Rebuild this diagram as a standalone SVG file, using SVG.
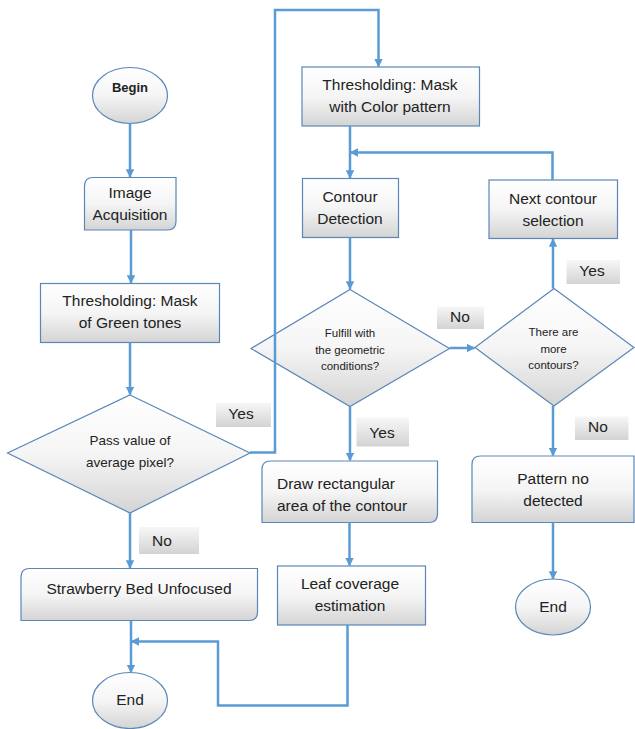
<svg xmlns="http://www.w3.org/2000/svg" width="635" height="729" viewBox="0 0 635 729">
<style>
.n{fill:url(#g);stroke:#5a87b8;stroke-width:1.2}
.lb{fill:url(#gl)}
.c{fill:none;stroke:#5b9bd5;stroke-width:2.5}
text{font-family:"Liberation Sans",Arial,sans-serif;fill:#222;text-anchor:middle}
.t{font-size:15.5px}
.s{font-size:11.5px}
.m{font-size:13.5px}
</style>
<defs>
<linearGradient id="g" x1="0" y1="0" x2="0" y2="1"><stop offset="0" stop-color="#ffffff"/><stop offset="0.5" stop-color="#f5f5f5"/><stop offset="1" stop-color="#d4d4d4"/></linearGradient>
<linearGradient id="gl" x1="0" y1="0" x2="0" y2="1"><stop offset="0" stop-color="#f7f7f7"/><stop offset="1" stop-color="#d3d3d3"/></linearGradient>
<marker id="a" viewBox="0 0 10 10" refX="9" refY="5" markerWidth="3.4" markerHeight="3.4" orient="auto" markerUnits="strokeWidth"><path d="M0,0 L10,5 L0,10 Z" fill="#5b9bd5"/></marker>
</defs>

<g id="begin"><ellipse class="n" cx="130" cy="95.5" rx="37.5" ry="28"/><text x="130" y="92" style="font-size:13px;font-weight:bold">Begin</text></g>
<g id="image-acq"><path class="n" d="M84.5,186 Q84.5,177.5 93,177.5 H176 V221.5 Q176,230 167.5,230 H84.5 Z"/><text class="t" x="130" y="198">Image</text><text class="t" x="130" y="220">Acquisition</text></g>
<g id="thr-green"><rect class="n" x="40.5" y="283.5" width="179" height="59"/><text class="t" x="130" y="306">Thresholding: Mask</text><text class="t" x="130" y="328">of Green tones</text></g>
<g id="pass-value"><path class="n" d="M130,395 L250,453 L130,513 L7.5,453 Z"/><text class="m" x="130" y="445">Pass value of</text><text class="m" x="130" y="467">average pixel?</text></g>
<g id="lbl-yes1"><rect class="lb" x="216" y="403" width="55" height="24"/><text class="t" x="241" y="419">Yes</text></g>
<g id="lbl-no1"><rect class="lb" x="139" y="527" width="60" height="27"/><text class="t" x="162" y="546">No</text></g>
<g id="unfocused"><path class="n" d="M21,577 Q21,568.5 29.5,568.5 H257.5 V612 Q257.5,620.5 249,620.5 H21 Z"/><text class="t" x="139" y="594">Strawberry Bed Unfocused</text></g>
<g id="end1"><ellipse class="n" cx="130" cy="700.5" rx="37.5" ry="28"/><text class="t" x="130" y="705">End</text></g>

<g id="thr-color"><rect class="n" x="302" y="67" width="177.5" height="59"/><text class="t" x="390" y="90">Thresholding: Mask</text><text class="t" x="390" y="112">with Color pattern</text></g>
<g id="contour-det"><rect class="n" x="302.5" y="178.5" width="96" height="59"/><text class="t" x="350" y="202">Contour</text><text class="t" x="350" y="224">Detection</text></g>
<g id="next-contour"><rect class="n" x="489" y="180" width="128.5" height="58.5"/><text class="t" x="553" y="204">Next contour</text><text class="t" x="553" y="226">selection</text></g>
<g id="fulfill"><path class="n" d="M350,289.5 L449.5,348.5 L350,406.5 L251,348.5 Z"/><text class="s" x="350" y="337">Fulfill with</text><text class="s" x="350" y="354">the geometric</text><text class="s" x="350" y="370">conditions?</text></g>
<g id="lbl-no2"><rect class="lb" x="437" y="306.5" width="47" height="22.5"/><text class="t" x="460" y="322">No</text></g>
<g id="more-contours"><path class="n" d="M554,288.5 L634,347.5 L554,406 L475,347.5 Z"/><text class="s" x="553.5" y="336">There are</text><text class="s" x="553.5" y="353">more</text><text class="s" x="553.5" y="369">contours?</text></g>
<g id="lbl-yes2"><rect class="lb" x="566.5" y="260" width="53.5" height="24"/><text class="t" x="592" y="276">Yes</text></g>
<g id="lbl-no3"><rect class="lb" x="575" y="416.5" width="53.5" height="23.5"/><text class="t" x="598" y="432">No</text></g>
<g id="lbl-yes3"><rect class="lb" x="356.5" y="417.5" width="52.5" height="29"/><text class="t" x="382" y="438">Yes</text></g>
<g id="draw-rect"><path class="n" d="M262,469.5 Q262,461 270.5,461 H437.5 V514 Q437.5,522.5 429,522.5 H262 Z"/><text class="t" x="277" y="489" style="text-anchor:start">Draw rectangular</text><text class="t" x="277" y="511" style="text-anchor:start">area of the contour</text></g>
<g id="pattern-no"><path class="n" d="M472,464.5 Q472,456 480.5,456 H634 V522.5 H472 Z"/><text class="t" x="553" y="484">Pattern no</text><text class="t" x="553" y="506">detected</text></g>
<g id="leaf"><rect class="n" x="277.5" y="566" width="148" height="59"/><text class="t" x="350" y="589">Leaf coverage</text><text class="t" x="350" y="611">estimation</text></g>
<g id="end2"><ellipse class="n" cx="553" cy="607" rx="37.5" ry="28"/><text class="t" x="553" y="612">End</text></g>

<g id="connectors">
<path class="c" d="M130,123.5 V177" marker-end="url(#a)"/>
<path class="c" d="M131,230 V283" marker-end="url(#a)"/>
<path class="c" d="M130,342.5 V394.5" marker-end="url(#a)"/>
<path class="c" d="M250,452.5 H275 V10 H378.5 V66.5" marker-end="url(#a)"/>
<path class="c" d="M130,513 V568" marker-end="url(#a)"/>
<path class="c" d="M131,620.5 V672.5" marker-end="url(#a)"/>
<path class="c" d="M350,126 V178" marker-end="url(#a)"/>
<path class="c" d="M552.5,180 V152.5 H350.5" marker-end="url(#a)"/>
<path class="c" d="M350,237.5 V289" marker-end="url(#a)"/>
<path class="c" d="M449.5,348 H474.5" marker-end="url(#a)"/>
<path class="c" d="M553,288.5 V239" marker-end="url(#a)"/>
<path class="c" d="M553,406 V455.5" marker-end="url(#a)"/>
<path class="c" d="M553,522.5 V579" marker-end="url(#a)"/>
<path class="c" d="M350,406.5 V460.5" marker-end="url(#a)"/>
<path class="c" d="M349.5,522.5 V565.5" marker-end="url(#a)"/>
<path class="c" d="M347.5,625 V705.5 H218 V641.5 H131.5" marker-end="url(#a)"/>
</g>
</svg>
